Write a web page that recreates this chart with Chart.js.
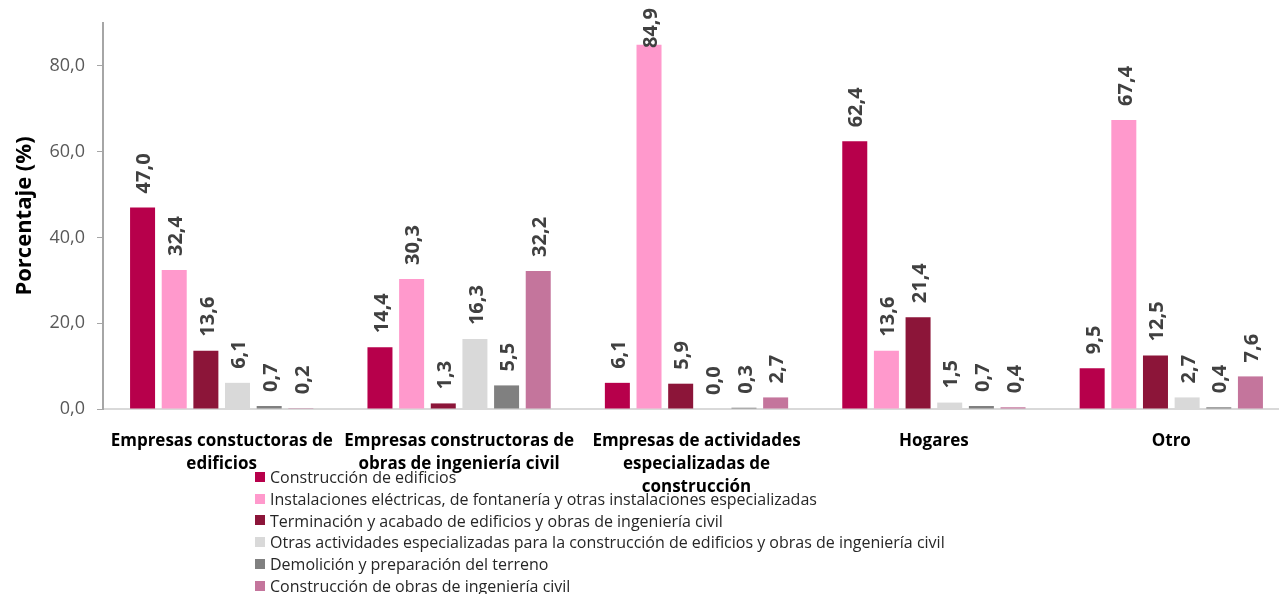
<!DOCTYPE html>
<html>
<head>
<meta charset="utf-8">
<script src="https://cdn.jsdelivr.net/npm/chart.js@4/dist/chart.umd.min.js"></script>
<style>
  body { margin: 0; background: #fff; width: 1279px; height: 594px; overflow: hidden; position: relative; font-family: 'Open Sans', sans-serif; }
  #wrap { position: absolute; left: 0; top: 0; width: 1300px; height: 594px; }
  #legend { position: absolute; left: 255px; top: 466px; font-size: 16px; color: #262626; }
  #legend div { display: flex; align-items: center; height: 21.8px; white-space: nowrap; }
  #legend span.box { width: 10px; height: 10px; margin-right: 5px; display: inline-block; }
</style>
</head>
<body>
<div id="wrap"><canvas id="chart"></canvas></div>
<div id="legend"></div>
<script>
// Categories (multi-line like the source)
const categories = [
    ['Empresas constuctoras de', 'edificios'],
    ['Empresas constructoras de', 'obras de ingeniería civil'],
    ['Empresas de actividades', 'especializadas de', 'construcción'],
    'Hogares',
    'Otro'
];

const seriesNames = [
    'Construcción de edificios',
    'Instalaciones eléctricas, de fontanería y otras instalaciones especializadas',
    'Terminación y acabado de edificios y obras de ingeniería civil',
    'Otras actividades especializadas para la construcción de edificios y obras de ingeniería civil',
    'Demolición y preparación del terreno',
    'Construcción de obras de ingeniería civil'
];

const seriesColors = ['#B7004B', '#FF99CC', '#8C1539', '#D9D9D9', '#808080', '#C4759C'];

// values per series, one per category
const construccionEdificios = [47.0, 14.4, 6.1, 62.4, 9.5];
const instalaciones        = [32.4, 30.3, 84.9, 13.6, 67.4];
const terminacion          = [13.6, 1.3, 5.9, 21.4, 12.5];
const otrasActividades     = [6.1, 16.3, 0.0, 1.5, 2.7];
const demolicion           = [0.7, 5.5, 0.3, 0.7, 0.4];
const obrasCiviles         = [0.2, 32.2, 2.7, 0.4, 7.6];

const seriesValues = [construccionEdificios, instalaciones, terminacion, otrasActividades, demolicion, obrasCiviles];

const yTicks = [0, 20, 40, 60, 80];

const fmt = v => v.toFixed(1).replace('.', ',');

// Rotated value labels above each bar
const barLabels = {
    id: 'barLabels',
    afterDatasetsDraw(chart) {
        const ctx = chart.ctx;
        ctx.save();
        ctx.font = 'bold 20px "Open Sans"';
        ctx.fillStyle = '#404040';
        ctx.textBaseline = 'middle';
        ctx.textAlign = 'left';
        chart.data.datasets.forEach((ds, i) => {
            chart.getDatasetMeta(i).data.forEach((bar, j) => {
                const txt = fmt(ds.data[j]);
                const w = ctx.measureText(txt).width;
                let start = bar.y - 14;
                if (start - w < 6) start = 8 + w; // keep inside the top edge
                ctx.save();
                ctx.translate(bar.x + 2, start);
                ctx.rotate(-Math.PI / 2);
                ctx.fillText(txt, 0, 0);
                ctx.restore();
            });
        });
        ctx.restore();
    }
};

new Chart(document.getElementById('chart'), {
    type: 'bar',
    data: {
        labels: categories,
        datasets: seriesNames.map((name, i) => ({
            label: name,
            data: seriesValues[i],
            backgroundColor: seriesColors[i],
            categoryPercentage: 0.8,
            barPercentage: 0.79
        }))
    },
    options: {
        responsive: true,
        maintainAspectRatio: false,
        animation: false,
        layout: { padding: { top: 23, right: 10, left: 0, bottom: 0 } },
        plugins: {
            legend: { display: false },
            tooltip: { enabled: false }
        },
        scales: {
            x: {
                grid: { display: false },
                border: { display: true, color: '#D9D9D9', width: 2 },
                ticks: {
                    color: '#000',
                    font: { family: 'Open Sans', size: 17, weight: 'bold', lineHeight: 1.35 },
                    padding: 13,
                    maxRotation: 0,
                    autoSkip: false
                },
                afterFit(scale) { scale.height = 185; }
            },
            y: {
                min: 0,
                max: 90,
                grid: { drawOnChartArea: false, drawTicks: true, tickLength: 6, color: '#A6A6A6' },
                border: { display: true, color: '#A6A6A6', width: 2 },
                afterBuildTicks(scale) {
                    scale.ticks = yTicks.map(v => ({ value: v }));
                },
                ticks: {
                    color: '#595959',
                    font: { family: 'Open Sans', size: 18 },
                    padding: 12,
                    callback: v => fmt(v)
                },
                title: {
                    display: true,
                    text: 'Porcentaje (%)',
                    color: '#000',
                    font: { family: 'Open Sans', size: 22, weight: 'bold' },
                    padding: { top: 12, bottom: 0 }
                },
                afterFit(scale) { scale.width = 103; }
            }
        }
    },
    plugins: [barLabels]
});

// HTML legend built from the series arrays
const legendEl = document.getElementById('legend');
seriesNames.forEach((name, i) => {
    const row = document.createElement('div');
    const box = document.createElement('span');
    box.className = 'box';
    box.style.background = seriesColors[i];
    row.appendChild(box);
    row.appendChild(document.createTextNode(name));
    legendEl.appendChild(row);
});
</script>
</body>
</html>
